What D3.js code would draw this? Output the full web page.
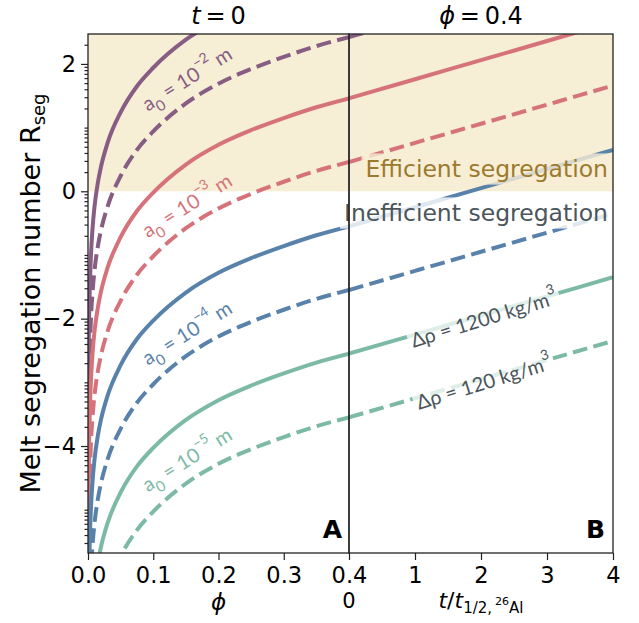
<!DOCTYPE html>
<html>
<head>
<meta charset="utf-8">
<script src="https://cdn.jsdelivr.net/npm/d3@7/dist/d3.min.js"></script>
<style>
  body { margin: 0; background: #fff; }
  svg { display: block; font-family: "DejaVu Sans", sans-serif; }
  .axis line { stroke: #222; stroke-width: 1.2px; }
  .axis path { display: none; }
  .axis text { font-size: 22.5px; fill: #000; font-family: "DejaVu Sans", sans-serif; }
  .curve { fill: none; stroke-width: 4px; }
  .lbl { font-family: Lato, "Open Sans", sans-serif; font-weight: 400; font-size: 20px; }
</style>
</head>
<body>
<div id="chart"></div>
<script>
// panel A: porosity phi at t = 0
const phi = [0.0001, 0.0005, 0.001, 0.002, 0.004, 0.007, 0.01, 0.015, 0.02, 0.03,
             0.05, 0.075, 0.1, 0.15, 0.2, 0.25, 0.3, 0.35, 0.4];
// panel B: time in 26Al half-lives at phi = 0.4
const tHalf = [0, 1, 2, 3, 4];

// log10 R_seg (solid: 1200 kg/m3, dashed: 120 kg/m3)
const a2SolidA  = [-4.88, -3.26, -2.53, -1.83, -1.13, -0.58, -0.24, 0.13, 0.39, 0.76, 1.24, 1.65, 1.94, 2.38, 2.69, 2.92, 3.11, 3.28, 3.42];
const a2DashA   = [-5.88, -4.26, -3.53, -2.83, -2.13, -1.58, -1.24, -0.87, -0.61, -0.24, 0.24, 0.65, 0.94, 1.38, 1.69, 1.92, 2.11, 2.28, 2.42];
const a3SolidA  = [-6.84, -5.22, -4.49, -3.79, -3.09, -2.54, -2.2, -1.83, -1.57, -1.2, -0.72, -0.31, -0.02, 0.42, 0.73, 0.96, 1.15, 1.32, 1.46];
const a3DashA   = [-7.84, -6.22, -5.49, -4.79, -4.09, -3.54, -3.2, -2.83, -2.57, -2.2, -1.72, -1.31, -1.02, -0.58, -0.27, -0.04, 0.15, 0.32, 0.46];
const a4SolidA  = [-8.85, -7.23, -6.5, -5.8, -5.1, -4.55, -4.21, -3.84, -3.58, -3.21, -2.73, -2.32, -2.03, -1.59, -1.28, -1.05, -0.86, -0.69, -0.55];
const a4DashA   = [-9.85, -8.23, -7.5, -6.8, -6.1, -5.55, -5.21, -4.84, -4.58, -4.21, -3.73, -3.32, -3.03, -2.59, -2.28, -2.05, -1.86, -1.69, -1.55];
const a5SolidA  = [-10.85, -9.23, -8.5, -7.8, -7.1, -6.55, -6.21, -5.84, -5.58, -5.21, -4.73, -4.32, -4.03, -3.59, -3.28, -3.05, -2.86, -2.69, -2.55];
const a5DashA   = [-11.85, -10.23, -9.5, -8.8, -8.1, -7.55, -7.21, -6.84, -6.58, -6.21, -5.73, -5.32, -5.03, -4.59, -4.28, -4.05, -3.86, -3.69, -3.55];

const a2SolidB = [3.42, 3.72, 4.02, 4.32, 4.62];
const a2DashB  = [2.42, 2.72, 3.02, 3.32, 3.62];
const a3SolidB = [1.46, 1.76, 2.06, 2.36, 2.66];
const a3DashB  = [0.46, 0.76, 1.06, 1.36, 1.66];
const a4SolidB = [-0.55, -0.25, 0.05, 0.35, 0.65];
const a4DashB  = [-1.55, -1.25, -0.95, -0.65, -0.35];
const a5SolidB = [-2.55, -2.25, -1.95, -1.65, -1.35];
const a5DashB  = [-3.55, -3.25, -2.95, -2.65, -2.35];

const grainExp = ['\u22122', '\u22123', '\u22124', '\u22125'];
const colors = ['#875d83', '#d6737a', '#5982ab', '#7dbaa6'];
const xTicksA = [0, 0.1, 0.2, 0.3, 0.4];
const xTicksB = [0, 1, 2, 3, 4];
const yMajor = [-4, -2, 0, 2];

const seriesA = [[a2SolidA, a2DashA], [a3SolidA, a3DashA], [a4SolidA, a4DashA], [a5SolidA, a5DashA]];
const seriesB = [[a2SolidB, a2DashB], [a3SolidB, a3DashB], [a4SolidB, a4DashB], [a5SolidB, a5DashB]];

const plotTop = 34, plotBottom = 553;
const xA = d3.scaleLinear().domain([0, 0.4]).range([88, 349]);
const xB = d3.scaleLinear().domain([0, 4]).range([349, 613]);
const y = d3.scaleLog().domain([Math.pow(10, -5.68), Math.pow(10, 2.47)]).range([plotBottom, plotTop]);

const svg = d3.select('#chart').append('svg')
  .attr('width', 639)
  .attr('height', 623);

const defs = svg.append('defs');
defs.append('clipPath').attr('id', 'clipA').append('rect')
  .attr('x', xA(0)).attr('y', plotTop).attr('width', xA(0.4) - xA(0)).attr('height', plotBottom - plotTop);
defs.append('clipPath').attr('id', 'clipB').append('rect')
  .attr('x', xB(0)).attr('y', plotTop).attr('width', xB(4) - xB(0)).attr('height', plotBottom - plotTop);

// efficient region, R > 1
svg.append('rect')
  .attr('x', xA(0)).attr('y', plotTop)
  .attr('width', xB(4) - xA(0)).attr('height', y(1) - plotTop)
  .attr('fill', '#f7eed6');

function drawPanel(xs, xVals, series, clipId) {
  let g = svg.append('g').attr('clip-path', 'url(#' + clipId + ')');
  let line = d3.line()
    .x(function(d, i) { return xs(xVals[i]); })
    .y(function(d) { return y(Math.pow(10, d)); })
    .curve(d3.curveMonotoneX);
  series.forEach(function(pair, k) {
    g.append('path').datum(pair[0]).attr('class', 'curve')
      .attr('stroke', colors[k]).attr('d', line);
    g.append('path').datum(pair[1]).attr('class', 'curve')
      .attr('stroke', colors[k]).attr('stroke-dasharray', '14.8,6.4').attr('d', line);
  });
}
drawPanel(xA, phi, seriesA, 'clipA');
drawPanel(xB, tHalf, seriesB, 'clipB');

// text in a rotated group, optionally with a box behind it
function label(x, yy, angle, fill, box) {
  let g = svg.append('g').attr('transform', 'translate(' + x + ',' + yy + ') rotate(' + angle + ')');
  let t = g.append('text').attr('fill', fill);
  return {g: g, t: t, box: box};
}
function addBox(l, pad) {
  let b = l.t.node().getBBox();
  l.g.insert('rect', 'text')
    .attr('x', b.x - pad).attr('y', b.y - pad * 0.4)
    .attr('width', b.width + 2 * pad).attr('height', b.height + pad * 0.8)
    .attr('fill', l.box.fill).attr('fill-opacity', l.box.opacity);
}

// grain size labels in panel A
const a0Pos = [1.78, -0.21, -2.21, -4.2];
grainExp.forEach(function(e, k) {
  let l = label(xA(0.151), y(Math.pow(10, a0Pos[k])), -32, colors[k]);
  l.t.attr('class', 'lbl').attr('text-anchor', 'middle').attr('dominant-baseline', 'central');
  l.t.append('tspan').text('a');
  l.t.append('tspan').attr('baseline-shift', 'sub').attr('font-size', '75%').text('0');
  l.t.append('tspan').text(' = 10');
  l.t.append('tspan').attr('baseline-shift', 'super').attr('font-size', '70%').text(e);
  l.t.append('tspan').text(' m');
});

// density contrast labels in panel B
const rhoLabels = ['1200', '120'];
const rhoPos = [-1.99, -2.99];
rhoLabels.forEach(function(r, k) {
  let l = label(xB(2.04), y(Math.pow(10, rhoPos[k])), -17, '#4b555b', {fill: '#fff', opacity: 0.75});
  l.t.attr('class', 'lbl').attr('font-size', '21px').attr('text-anchor', 'middle').attr('dominant-baseline', 'central');
  l.t.append('tspan').text('\u0394\u03c1 = ' + r + ' kg/m');
  l.t.append('tspan').attr('baseline-shift', 'super').attr('font-size', '70%').text('3');
  addBox(l, 3);
});

let eff = label(608, 177, 0, '#9c7a2d', {fill: '#f7eed6', opacity: 0.8});
eff.t.attr('text-anchor', 'end').attr('font-size', '23.5px').text('Efficient segregation');
addBox(eff, 4);
let ineff = label(608, 221, 0, '#4b555b', {fill: '#fff', opacity: 0.8});
ineff.t.attr('text-anchor', 'end').attr('font-size', '23.5px').text('Inefficient segregation');
addBox(ineff, 4);

// panel frames
svg.append('rect').attr('x', xA(0)).attr('y', plotTop)
  .attr('width', xA(0.4) - xA(0)).attr('height', plotBottom - plotTop)
  .attr('fill', 'none').attr('stroke', '#222').attr('stroke-width', 1.3);
svg.append('rect').attr('x', xB(0)).attr('y', plotTop)
  .attr('width', xB(4) - xB(0)).attr('height', plotBottom - plotTop)
  .attr('fill', 'none').attr('stroke', '#222').attr('stroke-width', 1.3);

// axes
svg.append('g').attr('class', 'axis')
  .attr('transform', 'translate(0,' + plotBottom + ')')
  .call(d3.axisBottom(xA).tickValues(xTicksA).tickFormat(d3.format('.1f')).tickSize(7).tickPadding(7));
svg.append('g').attr('class', 'axis')
  .attr('transform', 'translate(0,' + plotBottom + ')')
  .call(d3.axisBottom(xB).tickValues(xTicksB.slice(1)).tickFormat(d3.format('d')).tickSize(7).tickPadding(7));

let yAxis = d3.axisLeft(y)
  .tickValues(yMajor.map(function(e) { return Math.pow(10, e); }))
  .tickFormat(function(d) {
    let e = Math.round(Math.log10(d));
    return e < 0 ? '\u2212' + (-e) : '' + e;
  })
  .tickSize(7).tickPadding(5);
svg.append('g').attr('class', 'axis')
  .attr('transform', 'translate(' + xA(0) + ',0)')
  .call(yAxis);

let minors = [];
for (let e = -6; e <= 2; e++) {
  for (let m = 1; m <= 9; m++) {
    let v = m * Math.pow(10, e);
    if ((m > 1 || e % 2 !== 0) && v >= y.domain()[0] && v <= y.domain()[1]) minors.push(v);
  }
}
svg.append('g').attr('class', 'axis')
  .attr('transform', 'translate(' + xA(0) + ',0)')
  .call(d3.axisLeft(y).tickValues(minors).tickFormat('').tickSize(3.5));

// titles
let t1 = svg.append('text').attr('x', (xA(0) + xA(0.4)) / 2).attr('y', 24)
  .attr('text-anchor', 'middle').attr('font-size', '24px');
t1.append('tspan').attr('font-style', 'italic').text('t');
t1.append('tspan').text('\u2009=\u20090');
let t2 = svg.append('text').attr('x', (xB(0) + xB(4)) / 2).attr('y', 24)
  .attr('text-anchor', 'middle').attr('font-size', '24px');
t2.append('tspan').attr('font-style', 'italic').text('\u03d5');
t2.append('tspan').text('\u2009=\u20090.4');

// panel letters
svg.append('text').attr('x', xA(0.4) - 7).attr('y', 538).attr('text-anchor', 'end')
  .attr('font-size', '25px').attr('font-weight', 'bold').text('A');
svg.append('text').attr('x', xB(4) - 8).attr('y', 538).attr('text-anchor', 'end')
  .attr('font-size', '25px').attr('font-weight', 'bold').text('B');

// axis titles
svg.append('text').attr('x', (xA(0) + xA(0.4)) / 2).attr('y', 610)
  .attr('text-anchor', 'middle').attr('font-size', '23px').attr('font-style', 'italic').text('\u03d5');
svg.append('text').attr('x', xB(0)).attr('y', 608)
  .attr('text-anchor', 'middle').attr('font-size', '21px').text('0');
let xt = svg.append('text').attr('x', (xB(0) + xB(4)) / 2).attr('y', 608)
  .attr('text-anchor', 'middle').attr('font-size', '22px');
xt.append('tspan').attr('font-style', 'italic').text('t');
xt.append('tspan').text('/');
xt.append('tspan').attr('font-style', 'italic').text('t');
xt.append('tspan').attr('font-size', '15px').attr('dy', 5).text('1/2,\u2009');
xt.append('tspan').attr('font-size', '11px').attr('dy', -8).text('26');
xt.append('tspan').attr('font-size', '15px').attr('dy', 8).text('Al');

let yl = svg.append('text').attr('transform', 'translate(40,' + ((plotTop + plotBottom) / 2) + ') rotate(-90)')
  .attr('text-anchor', 'middle').attr('font-size', '27px');
yl.append('tspan').text('Melt segregation number R');
yl.append('tspan').attr('font-size', '18px').attr('dy', 5).text('seg');
</script>
</body>
</html>
